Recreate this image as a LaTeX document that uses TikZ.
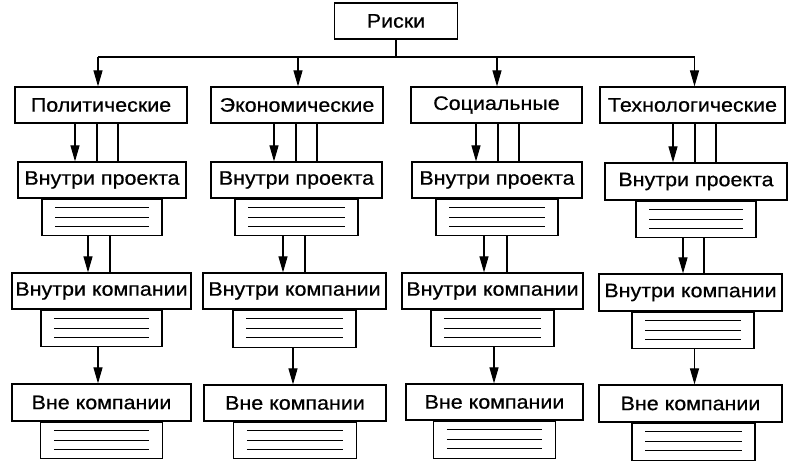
\documentclass[tikz,border=0pt]{standalone}
\usepackage{fontspec}
\setmainfont[FakeStretch=1.1,FakeBold=0.6]{Liberation Sans}
\usetikzlibrary{arrows.meta}
\tikzstyle{box}=[draw=black,line width=1.2pt,minimum height=36pt,inner sep=0pt,font=\fontsize{19.5}{22}\selectfont]
\tikzstyle{lst}=[draw=black,line width=1.2pt,minimum height=36pt,inner sep=0pt,anchor=north]
\tikzstyle{arr}=[line width=1.1pt,-{Triangle[length=16pt,width=9pt]}]
\tikzstyle{ln}=[line width=1.1pt]
\newcommand{\rowlines}[1]{%
  \foreach \d in {9,18.5,27.5}
    \draw[ln] ([xshift=14pt,yshift=-\d pt]#1.north west) -- ([xshift=-14pt,yshift=-\d pt]#1.north east);}

\begin{document}
\begin{tikzpicture}[x=1pt,y=-1pt]
\useasboundingbox (0,0) rectangle (800,469);
% top
\node[box,minimum width=123pt] (risk) at (396,21) {Риски};
\coordinate (bus) at (398,57);
% categories
\node[box,minimum width=172pt] (pol) at (101,105) {Политические};
\node[box,minimum width=172pt] (eco) at (297,105) {Экономические};
\node[box,minimum width=171pt] (soc) at (496.5,105) {Социальные};
\node[box,minimum width=185pt] (tech) at (692.5,105) {Технологические};
\draw[ln] (risk.south) -- (risk.south |- bus);
\draw[ln] ([xshift=-3pt]pol.north |- bus) -- ([xshift=2pt]tech.north |- bus);
\draw[arr] ([xshift=-3pt]pol.north |- bus) -- ([xshift=-3pt]pol.north);
\draw[arr] ([xshift=1pt]eco.north |- bus) -- ([xshift=1pt]eco.north);
\draw[arr] ([xshift=0.5pt]soc.north |- bus) -- ([xshift=0.5pt]soc.north);
\draw[arr] ([xshift=2pt]tech.north |- bus) -- ([xshift=2pt]tech.north);

% column 1
\node[box,minimum width=168pt] (pip) at (102,180) {Внутри проекта};
\node[lst,minimum width=120pt] (piplist) at (pip.south) {};
\node[box,minimum width=179pt] (pik) at (101.5,291) {Внутри компании};
\node[lst,minimum width=121pt] (piklist) at (pik.south) {};
\node[box,minimum width=179pt,minimum height=37pt] (pvk) at (101.5,402.5) {Вне компании};
\node[lst,minimum width=122pt] (pvklist) at (pvk.south) {};
\draw[arr] ([xshift=-26pt]pol.south) -- ([xshift=-26pt]pol.south |- pip.north);
\draw[ln] ([xshift=-4pt]pol.south) -- ([xshift=-4pt]pol.south |- pip.north);
\draw[ln] ([xshift=17pt]pol.south) -- ([xshift=17pt]pol.south |- pip.north);
\draw[arr] ([xshift=-14pt]piplist.south) -- ([xshift=-14pt]piplist.south |- pik.north);
\draw[ln] ([xshift=8pt]piplist.south) -- ([xshift=8pt]piplist.south |- pik.north);
\draw[arr] ([xshift=-3.5pt]piklist.south) -- ([xshift=-3.5pt]piklist.south |- pvk.north);
\rowlines{piplist}
\rowlines{piklist}
\rowlines{pvklist}

% column 2
\node[box,minimum width=171pt] (eip) at (296.5,180) {Внутри проекта};
\node[lst,minimum width=123pt] (eiplist) at (eip.south) {};
\node[box,minimum width=183pt] (eik) at (294.5,291) {Внутри компании};
\node[lst,minimum width=123pt,minimum height=37pt] (eiklist) at (eik.south) {};
\node[box,minimum width=182pt] (evk) at (295,403) {Вне компании};
\node[lst,minimum width=123pt] (evklist) at (evk.south) {};
\draw[arr] ([xshift=-23pt]eco.south) -- ([xshift=-23pt]eco.south |- eip.north);
\draw[ln] ([xshift=-1pt]eco.south) -- ([xshift=-1pt]eco.south |- eip.north);
\draw[ln] ([xshift=20pt]eco.south) -- ([xshift=20pt]eco.south |- eip.north);
\draw[arr] ([xshift=-13.5pt]eiplist.south) -- ([xshift=-13.5pt]eiplist.south |- eik.north);
\draw[ln] ([xshift=8.5pt]eiplist.south) -- ([xshift=8.5pt]eiplist.south |- eik.north);
\draw[arr] ([xshift=-1.5pt]eiklist.south) -- ([xshift=-1.5pt]eiklist.south |- evk.north);
\rowlines{eiplist}
\rowlines{eiklist}
\rowlines{evklist}

% column 3
\node[box,minimum width=170pt] (sip) at (497,180) {Внутри проекта};
\node[lst,minimum width=122pt] (siplist) at (sip.south) {};
\node[box,minimum width=181pt] (sik) at (492.5,291) {Внутри компании};
\node[lst,minimum width=123pt] (siklist) at (sik.south) {};
\node[box,minimum width=177pt] (svk) at (494.5,402) {Вне компании};
\node[lst,minimum width=122pt,minimum height=37pt] (svklist) at (svk.south) {};
\draw[arr] ([xshift=-20.5pt]soc.south) -- ([xshift=-20.5pt]soc.south |- sip.north);
\draw[ln] ([xshift=1.5pt]soc.south) -- ([xshift=1.5pt]soc.south |- sip.north);
\draw[ln] ([xshift=22.5pt]soc.south) -- ([xshift=22.5pt]soc.south |- sip.north);
\draw[arr] ([xshift=-13pt]siplist.south) -- ([xshift=-13pt]siplist.south |- sik.north);
\draw[ln] ([xshift=10pt]siplist.south) -- ([xshift=10pt]siplist.south |- sik.north);
\draw[arr] ([xshift=1.5pt]siklist.south) -- ([xshift=1.5pt]siklist.south |- svk.north);
\rowlines{siplist}
\rowlines{siklist}
\rowlines{svklist}

% column 4
\node[box,minimum width=182pt,minimum height=37pt] (tip) at (696,181.5) {Внутри проекта};
\node[lst,minimum width=120pt] (tiplist) at (tip.south) {};
\node[box,minimum width=183pt,minimum height=37pt] (tik) at (690.5,292.5) {Внутри компании};
\node[lst,minimum width=122pt] (tiklist) at ([xshift=2.5pt]tik.south) {};
\node[box,minimum width=183pt,minimum height=37pt] (tvk) at (690.5,403.5) {Вне компании};
\node[lst,minimum width=123pt,minimum height=37pt] (tvklist) at ([xshift=3pt]tvk.south) {};
\draw[arr] ([xshift=-19.5pt]tech.south) -- ([xshift=-19.5pt]tech.south |- tip.north);
\draw[ln] ([xshift=2.5pt]tech.south) -- ([xshift=2.5pt]tech.south |- tip.north);
\draw[ln] ([xshift=23.5pt]tech.south) -- ([xshift=23.5pt]tech.south |- tip.north);
\draw[arr] ([xshift=-13pt]tiplist.south) -- ([xshift=-13pt]tiplist.south |- tik.north);
\draw[ln] ([xshift=8pt]tiplist.south) -- ([xshift=8pt]tiplist.south |- tik.north);
\draw[arr] ([xshift=1.5pt]tiklist.south) -- ([xshift=1.5pt]tiklist.south |- tvk.north);
\rowlines{tiplist}
\rowlines{tiklist}
\rowlines{tvklist}
\end{tikzpicture}
\end{document}
